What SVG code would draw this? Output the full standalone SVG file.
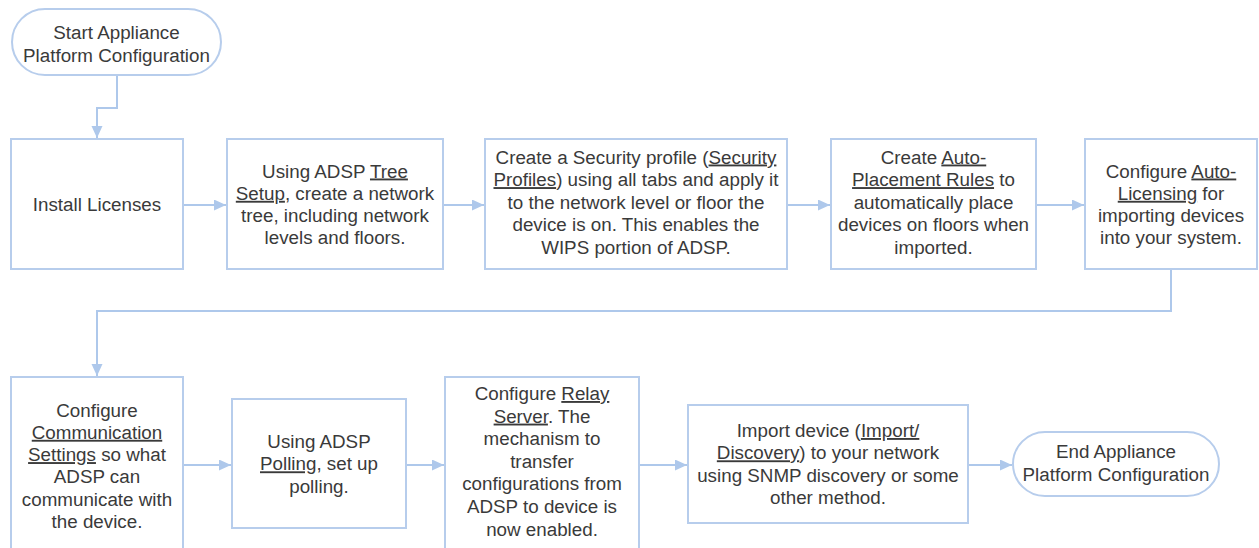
<svg xmlns="http://www.w3.org/2000/svg" width="1259" height="548" viewBox="0 0 1259 548">
<style>
.box{fill:#ffffff;stroke:#b7cdec;stroke-width:2}
.term{fill:#ffffff;stroke:#b7cdec;stroke-width:2}
.conn{fill:none;stroke:#aec8eb;stroke-width:2}
text{font-family:"Liberation Sans",Arial,sans-serif;font-size:18.8px;fill:#3a3a3a;text-anchor:middle}
.u{text-decoration:underline}
</style>
<defs>
<marker id="ah" markerUnits="userSpaceOnUse" markerWidth="13" markerHeight="12" refX="12" refY="5.5" orient="auto">
<path d="M0,0 L12,5.5 L0,11 z" fill="#aec8eb"/>
</marker>
</defs>
<rect width="1259" height="548" fill="#ffffff"/>
<g id="connectors">
<path class="conn" d="M117,75 V108 H97 V138" marker-end="url(#ah)"/>
<path class="conn" d="M183,205 H226" marker-end="url(#ah)"/>
<path class="conn" d="M443,205 H484" marker-end="url(#ah)"/>
<path class="conn" d="M787,205 H830" marker-end="url(#ah)"/>
<path class="conn" d="M1036,205 H1084" marker-end="url(#ah)"/>
<path class="conn" d="M1171,269 V311 H97 V376" marker-end="url(#ah)"/>
<path class="conn" d="M183,465 H231" marker-end="url(#ah)"/>
<path class="conn" d="M406,465 H444" marker-end="url(#ah)"/>
<path class="conn" d="M639,465 H687" marker-end="url(#ah)"/>
<path class="conn" d="M968,465 H1012" marker-end="url(#ah)"/>
</g>
<g id="start">
<rect class="term" x="12" y="9" width="209" height="66" rx="33" ry="33"/>
<text x="116.5" y="39">Start Appliance</text>
<text x="116.5" y="61.5">Platform Configuration</text>
</g>
<g id="install-licenses">
<rect class="box" x="11" y="139" width="172" height="130"/>
<text x="97" y="211">Install Licenses</text>
</g>
<g id="tree-setup">
<rect class="box" x="227" y="139" width="216" height="130"/>
<text x="335" y="177.5">Using ADSP <tspan class="u">Tree</tspan></text>
<text x="335" y="199.8"><tspan class="u">Setup</tspan>, create a network</text>
<text x="335" y="222.1">tree, including network</text>
<text x="335" y="244.4">levels and floors.</text>
</g>
<g id="security-profile">
<rect class="box" x="485" y="139" width="302" height="130"/>
<text x="636" y="163.5">Create a Security profile (<tspan class="u">Security</tspan></text>
<text x="636" y="186.1"><tspan class="u">Profiles</tspan>) using all tabs and apply it</text>
<text x="636" y="208.7">to the network level or floor the</text>
<text x="636" y="231.3">device is on. This enables the</text>
<text x="636" y="253.9">WIPS portion of ADSP.</text>
</g>
<g id="auto-placement">
<rect class="box" x="831" y="139" width="205" height="130"/>
<text x="933.5" y="163.5">Create <tspan class="u">Auto-</tspan></text>
<text x="933.5" y="186.1"><tspan class="u">Placement Rules</tspan> to</text>
<text x="933.5" y="208.7">automatically place</text>
<text x="933.5" y="231.3">devices on floors when</text>
<text x="933.5" y="253.9">imported.</text>
</g>
<g id="auto-licensing">
<rect class="box" x="1085" y="139" width="172" height="130"/>
<text x="1171" y="177.5">Configure <tspan class="u">Auto-</tspan></text>
<text x="1171" y="199.8"><tspan class="u">Licensing</tspan> for</text>
<text x="1171" y="222.1">importing devices</text>
<text x="1171" y="244.4">into your system.</text>
</g>
<g id="communication-settings">
<rect class="box" x="11" y="377" width="172" height="180"/>
<text x="97" y="416.5">Configure</text>
<text x="97" y="438.8"><tspan class="u">Communication</tspan></text>
<text x="97" y="461.1"><tspan class="u">Settings</tspan> so what</text>
<text x="97" y="483.4">ADSP can</text>
<text x="97" y="505.7">communicate with</text>
<text x="97" y="528">the device.</text>
</g>
<g id="polling">
<rect class="box" x="232" y="399" width="174" height="129"/>
<text x="319" y="448">Using ADSP</text>
<text x="319" y="470.3"><tspan class="u">Polling</tspan>, set up</text>
<text x="319" y="492.6">polling.</text>
</g>
<g id="relay-server">
<rect class="box" x="445" y="377" width="194" height="180"/>
<text x="542" y="400">Configure <tspan class="u">Relay</tspan></text>
<text x="542" y="422.6"><tspan class="u">Server</tspan>. The</text>
<text x="542" y="445.2">mechanism to</text>
<text x="542" y="467.8">transfer</text>
<text x="542" y="490.4">configurations from</text>
<text x="542" y="513">ADSP to device is</text>
<text x="542" y="535.6">now enabled.</text>
</g>
<g id="import-discovery">
<rect class="box" x="688" y="405" width="280" height="118"/>
<text x="828" y="437">Import device (<tspan class="u">Import/</tspan></text>
<text x="828" y="459.3"><tspan class="u">Discovery</tspan>) to your network</text>
<text x="828" y="481.6">using SNMP discovery or some</text>
<text x="828" y="503.9">other method.</text>
</g>
<g id="end">
<rect class="term" x="1013" y="432" width="206" height="64" rx="32" ry="32"/>
<text x="1116" y="458.3">End Appliance</text>
<text x="1116" y="480.7">Platform Configuration</text>
</g>
</svg>
